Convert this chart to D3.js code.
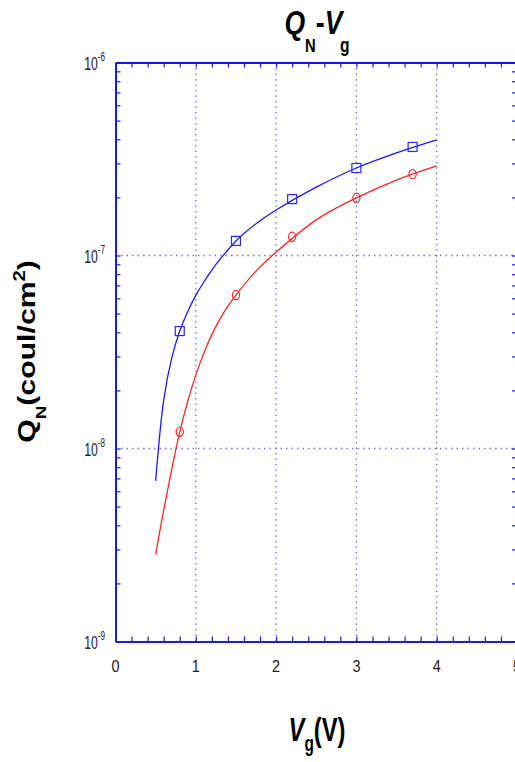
<!DOCTYPE html>
<html>
<head>
<meta charset="utf-8">
<script src="https://cdn.jsdelivr.net/npm/d3@7"></script>
<style>
  body { margin: 0; background: #fff; }
  svg { display: block; }
  text { font-family: "Liberation Sans", Arial, sans-serif; }
</style>
</head>
<body>
<svg width="515" height="762"></svg>
<script>
// markers
const vgPoints = [0.8, 1.5, 2.2, 3.0, 3.7];
const qSquares = [4.06e-8, 1.19e-7, 1.96e-7, 2.84e-7, 3.65e-7];
const qCircles = [1.22e-8, 6.24e-8, 1.25e-7, 1.99e-7, 2.64e-7];

// fitted curves
const vgLine = [0.5, 0.6, 0.7, 0.8, 0.9, 1.0, 1.1, 1.2, 1.3, 1.4, 1.5, 1.75, 2.0, 2.5, 3.0, 3.5, 4.0];
const qBlueLine = [6.8e-9, 1.78e-8, 2.94e-8, 4.06e-8, 5.13e-8, 6.21e-8, 7.29e-8, 8.41e-8, 9.54e-8, 1.068e-7, 1.19e-7, 1.46e-7, 1.72e-7, 2.26e-7, 2.84e-7, 3.40e-7, 3.97e-7];
const qRedLine = [2.83e-9, 4.79e-9, 7.8e-9, 1.22e-8, 1.76e-8, 2.40e-8, 3.12e-8, 3.89e-8, 4.68e-8, 5.47e-8, 6.24e-8, 8.3e-8, 1.04e-7, 1.53e-7, 1.99e-7, 2.46e-7, 2.91e-7];

const xTicks = [0, 1, 2, 3, 4, 5];
const yDecades = [1e-9, 1e-8, 1e-7, 1e-6];
const yExponents = ["-9", "-8", "-7", "-6"];

const svg = d3.select("svg");
const m = {left: 115.5, right: 517, top: 62.5, bottom: 641.5};
const axisColor = "#1c1cd6";
const gridColor = "#7474f2";

const x = d3.scaleLinear().domain([0, 5]).range([m.left, m.right]);
const y = d3.scaleLog().domain([1e-9, 1e-6]).range([m.bottom, m.top]);

// grid
const grid = svg.append("g");
grid.selectAll("line.gx").data(xTicks.slice(1, -1)).enter().append("line")
  .attr("x1", d => x(d)).attr("x2", d => x(d))
  .attr("y1", m.top).attr("y2", m.bottom);
grid.selectAll("line.gy").data(yDecades.slice(1, -1)).enter().append("line")
  .attr("x1", m.left).attr("x2", m.right)
  .attr("y1", d => y(d)).attr("y2", d => y(d));
grid.selectAll("line")
  .attr("stroke", gridColor).attr("stroke-width", 1.3)
  .attr("stroke-dasharray", "1.5,4");

// minor + major ticks, pointing inward
const xMinor = d3.range(0, 5.01, 0.2);
const yMinor = y.ticks();

function tickAxis(axis, transform) {
  const g = svg.append("g").attr("transform", transform).call(axis);
  g.selectAll("text").remove();
  g.select(".domain").attr("stroke", axisColor).attr("stroke-width", 2);
  g.selectAll(".tick line").attr("stroke", axisColor).attr("stroke-width", 1.2);
  return g;
}
tickAxis(d3.axisBottom(x).tickValues(xMinor).tickSizeInner(-5).tickSizeOuter(0), `translate(0,${m.bottom})`);
tickAxis(d3.axisTop(x).tickValues(xMinor).tickSizeInner(-5).tickSizeOuter(0), `translate(0,${m.top})`);
tickAxis(d3.axisLeft(y).tickValues(yMinor).tickSizeInner(-5).tickSizeOuter(0), `translate(${m.left},0)`);
tickAxis(d3.axisRight(y).tickValues(yMinor).tickSizeInner(-5).tickSizeOuter(0), `translate(${m.right},0)`);

// tick labels
svg.append("g").selectAll("text").data(xTicks).enter().append("text")
  .attr("transform", d => `translate(${x(d)},672) scale(0.9,1)`)
  .attr("text-anchor", "middle")
  .attr("font-size", 16)
  .attr("fill", "#222")
  .text(d => d);

const yl = svg.append("g").selectAll("g").data(yDecades).enter().append("g")
  .attr("transform", d => `translate(105,${y(d) + 7.5}) scale(0.68,1)`);
const ylt = yl.append("text").attr("text-anchor", "end").attr("font-size", 18).attr("fill", "#222");
ylt.append("tspan").text("10");
ylt.append("tspan").attr("font-size", 12).attr("dy", -9).text((d, i) => yExponents[i]);

// curves
const line = d3.line()
  .x(d => x(d[0]))
  .y(d => y(d[1]))
  .curve(d3.curveCatmullRom.alpha(0.5));

svg.append("path")
  .datum(vgLine.map((v, i) => [v, qBlueLine[i]]))
  .attr("fill", "none").attr("stroke", "#1a1aff").attr("stroke-width", 1.3)
  .attr("d", line);
svg.append("path")
  .datum(vgLine.map((v, i) => [v, qRedLine[i]]))
  .attr("fill", "none").attr("stroke", "#ff2525").attr("stroke-width", 1.3)
  .attr("d", line);

// markers
svg.append("g").selectAll("rect").data(vgPoints).enter().append("rect")
  .attr("x", d => x(d) - 4.5)
  .attr("y", (d, i) => y(qSquares[i]) - 4.5)
  .attr("width", 9).attr("height", 9)
  .attr("fill", "none").attr("stroke", "#2a2aee").attr("stroke-width", 1.2);
svg.append("g").selectAll("ellipse").data(vgPoints).enter().append("ellipse")
  .attr("cx", d => x(d))
  .attr("cy", (d, i) => y(qCircles[i]))
  .attr("rx", 3.6).attr("ry", 4.6)
  .attr("fill", "none").attr("stroke", "#ff2a2a").attr("stroke-width", 1.2);

// title
const title = svg.append("text")
  .attr("transform", "translate(317,34) scale(0.78,1)")
  .attr("text-anchor", "middle")
  .attr("font-size", 34).attr("font-weight", "bold").attr("fill", "#000");
title.append("tspan").attr("font-style", "italic").text("Q");
title.append("tspan").attr("font-size", 19).attr("dy", 18).text("N");
title.append("tspan").attr("dy", -18).text("-");
title.append("tspan").attr("font-style", "italic").text("V");
title.append("tspan").attr("font-size", 20).attr("dx", -3).attr("dy", 18).text("g");

// x label
const xl = svg.append("text")
  .attr("transform", "translate(317,741) scale(0.7,1)")
  .attr("text-anchor", "middle")
  .attr("font-size", 34).attr("font-weight", "bold").attr("fill", "#000");
xl.append("tspan").attr("font-style", "italic").text("V");
xl.append("tspan").attr("font-size", 22).attr("dy", 10).text("g");
xl.append("tspan").attr("dy", -10).text("(V)");

// y label
const ylab = svg.append("text")
  .attr("transform", "translate(35,351.5) rotate(-90) scale(1.26,1)")
  .attr("text-anchor", "middle")
  .attr("font-size", 24).attr("font-weight", "bold").attr("fill", "#000");
ylab.append("tspan").text("Q");
ylab.append("tspan").attr("font-size", 15).attr("dy", 11).text("N");
ylab.append("tspan").attr("dy", -11).text("(coul/cm");
ylab.append("tspan").attr("font-size", 16).attr("dy", -10).text("2");
ylab.append("tspan").attr("dy", 10).text(")");
</script>
</body>
</html>
